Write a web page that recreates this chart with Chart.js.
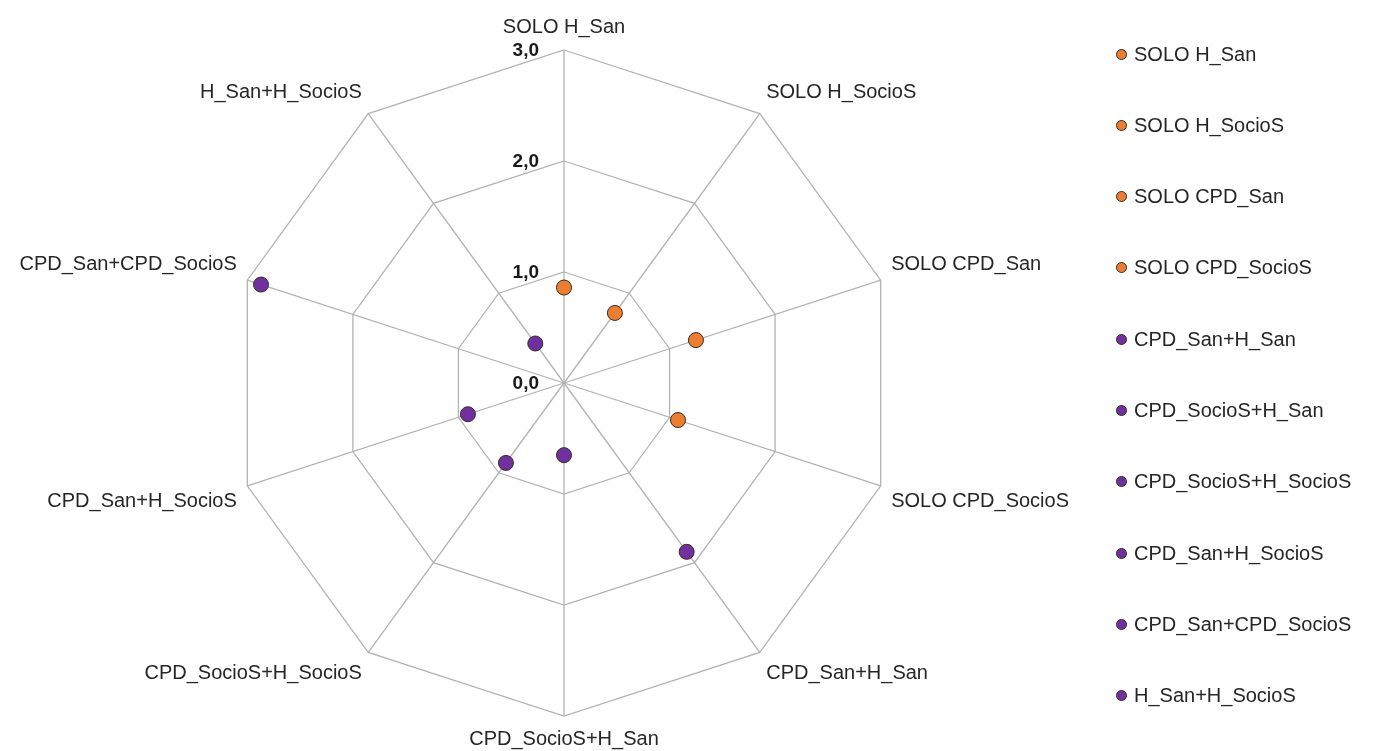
<!DOCTYPE html>
<html>
<head>
<meta charset="utf-8">
<script src="https://cdn.jsdelivr.net/npm/chart.js@4.4.0/dist/chart.umd.min.js"></script>
<style>
  html, body { margin: 0; padding: 0; background: #fff; }
  #wrap { position: relative; width: 1379px; height: 751px; overflow: hidden; }
  #legend { position: absolute; left: 1116px; top: 0; font-family: "Liberation Sans", sans-serif; font-size: 20px; color: #262626; }
  .item { position: absolute; left: 0; white-space: nowrap; display: flex; align-items: center; height: 24px; }
  .dot { width: 11px; height: 11px; border-radius: 50%; border: 1px solid #3b2b20; margin-right: 7px; box-sizing: border-box; }
</style>
</head>
<body>
<div id="wrap">
  <canvas id="radar" width="1379" height="751"></canvas>
  <div id="legend"></div>
</div>
<script>
// categorie (assi del radar), una serie per ogni asse
const categories = [
  'SOLO H_San', 'SOLO H_SocioS', 'SOLO CPD_San', 'SOLO CPD_SocioS',
  'CPD_San+H_San', 'CPD_SocioS+H_San', 'CPD_SocioS+H_SocioS',
  'CPD_San+H_SocioS', 'CPD_San+CPD_SocioS', 'H_San+H_SocioS'
];
const values = [0.86, 0.78, 1.25, 1.08, 1.88, 0.65, 0.89, 0.91, 2.87, 0.44];
const orange = '#ED7D31';
const purple = '#7030A0';
const seriesColors = [orange, orange, orange, orange, purple, purple, purple, purple, purple, purple];
const tickValues = [0, 1, 2, 3];
const tickLabels = ['0,0', '1,0', '2,0', '3,0'];

const FONT = '"Liberation Sans", sans-serif';

const datasets = categories.map((name, i) => ({
  label: name,
  data: categories.map((_, j) => (j === i ? values[i] : null)),
  showLine: false,
  pointRadius: 7.5,
  pointHoverRadius: 7.5,
  pointBackgroundColor: seriesColors[i],
  pointBorderColor: '#3b2b20',
  pointBorderWidth: 1,
  backgroundColor: seriesColors[i],
  borderColor: seriesColors[i]
}));

// etichette dei valori (a sinistra dell'asse verticale)
const tickLabelPlugin = {
  id: 'tickLabels',
  afterDatasetsDraw(chart) {
    const r = chart.scales.r;
    const ctx = chart.ctx;
    ctx.save();
    ctx.font = 'bold 19px ' + FONT;
    ctx.fillStyle = '#1a1a1a';
    ctx.textAlign = 'right';
    ctx.textBaseline = 'middle';
    tickValues.forEach((v, i) => {
      const d = r.getDistanceFromCenterForValue(v);
      ctx.fillText(tickLabels[i], r.xCenter - 25, r.yCenter - d + 1);
    });
    ctx.restore();
  }
};

const chart = new Chart(document.getElementById('radar'), {
  type: 'radar',
  data: { labels: categories, datasets: datasets },
  options: {
    responsive: false,
    animation: false,
    layout: { padding: { left: 0, right: 278, top: 15, bottom: 0 } },
    plugins: {
      legend: { display: false },
      tooltip: { enabled: false }
    },
    scales: {
      r: {
        min: 0,
        max: 3,
        ticks: { stepSize: 1, display: false },
        grid: { color: '#b3b3b3', lineWidth: 1.3 },
        angleLines: { color: '#b3b3b3', lineWidth: 1.3 },
        pointLabels: { font: { family: FONT, size: 20 }, color: '#262626', padding: 11 }
      }
    }
  },
  plugins: [tickLabelPlugin]
});

// legenda HTML
const legend = document.getElementById('legend');
categories.forEach((name, i) => {
  const item = document.createElement('div');
  item.className = 'item';
  item.style.top = (54 + i * 71.3 - 12) + 'px';
  item.innerHTML = `<span class="dot" style="background:${seriesColors[i]}"></span><span>${name}</span>`;
  legend.appendChild(item);
});
</script>
</body>
</html>
